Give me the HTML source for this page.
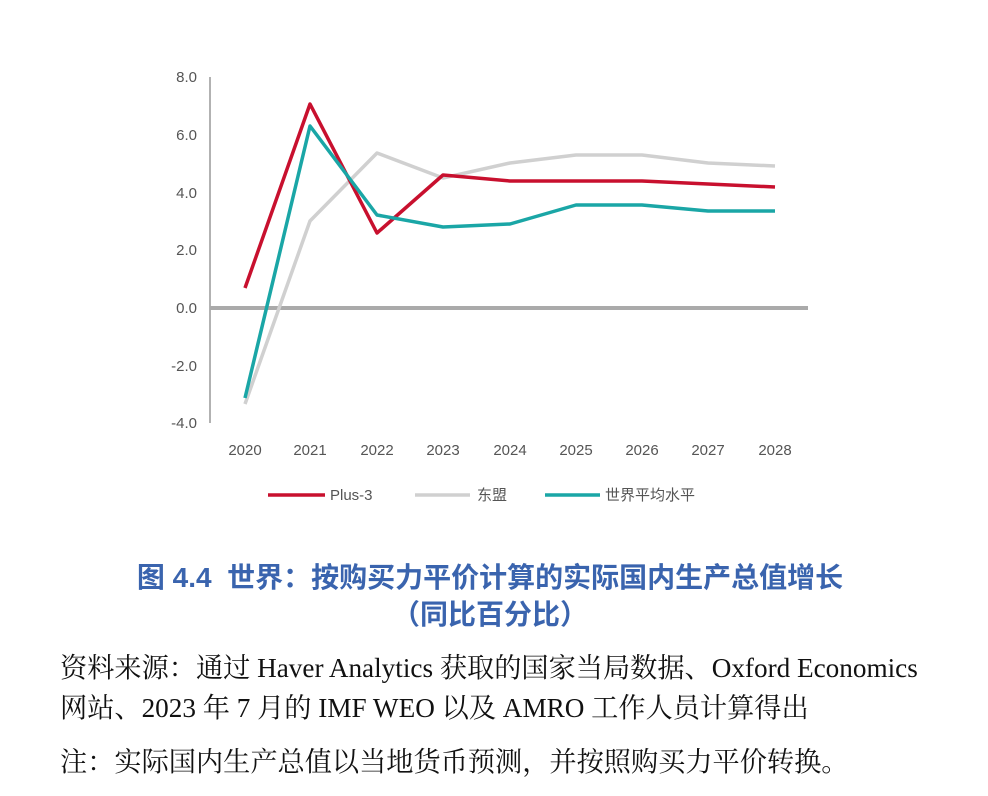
<!DOCTYPE html>
<html><head><meta charset="utf-8"><style>
body{margin:0;background:#fff;width:988px;height:796px;overflow:hidden;position:relative}
.t{position:absolute;font-family:"Liberation Serif","Noto Serif CJK SC",serif;font-size:27.2px;line-height:32px;color:#111;white-space:nowrap}
.h{position:absolute;width:980px;text-align:center;font-family:"Liberation Sans","Noto Sans CJK SC",sans-serif;font-weight:bold;font-size:28px;line-height:32px;color:#3a64ae}
</style></head><body>
<svg width="988" height="540" style="position:absolute;left:0;top:0" font-family="Liberation Sans, Noto Sans CJK SC, sans-serif" font-size="15" fill="#555">
<line x1="210" y1="77" x2="210" y2="423" stroke="#999" stroke-width="1.5"/>
<line x1="210" y1="308" x2="808" y2="308" stroke="#aaa" stroke-width="4"/>
<g text-anchor="end">
<text x="197" y="82">8.0</text><text x="197" y="140">6.0</text><text x="197" y="198">4.0</text><text x="197" y="255">2.0</text><text x="197" y="313">0.0</text><text x="197" y="371">-2.0</text><text x="197" y="428">-4.0</text>
</g>
<g text-anchor="middle">
<text x="245" y="455">2020</text><text x="310" y="455">2021</text><text x="377" y="455">2022</text><text x="443" y="455">2023</text><text x="510" y="455">2024</text><text x="576" y="455">2025</text><text x="642" y="455">2026</text><text x="708" y="455">2027</text><text x="775" y="455">2028</text>
</g>
<g fill="none" stroke-width="3.5" stroke-linejoin="round">
<polyline stroke="#d0d0d0" points="245,404 310,221 377,153 443,178 510,163 576,155 642,155 708,163 775,166"/>
<polyline stroke="#c8102e" points="245,288 310,104 377,233 443,175 510,181 576,181 642,181 708,184 775,187"/>
<polyline stroke="#1aa6a6" points="245,398 310,126 377,215 443,227 510,224 576,205 642,205 708,211 775,211"/>
<line x1="268" y1="495" x2="325" y2="495" stroke="#c8102e"/>
<line x1="415" y1="495" x2="470" y2="495" stroke="#d0d0d0"/>
<line x1="545" y1="495" x2="600" y2="495" stroke="#1aa6a6"/>
</g>
<text x="330" y="500">Plus-3</text><text x="477" y="500">东盟</text><text x="605" y="500">世界平均水平</text>
</svg>
<div class="h" style="top:562px">图 4.4 &nbsp;世界：按购买力平价计算的实际国内生产总值增长</div>
<div class="h" style="top:599px">（同比百分比）</div>
<div class="t" style="left:60px;top:652px">资料来源：通过 Haver Analytics 获取的国家当局数据、Oxford Economics</div>
<div class="t" style="left:60px;top:692px">网站、2023 年 7 月的 IMF WEO 以及 AMRO 工作人员计算得出</div>
<div class="t" style="left:60px;top:746px">注：实际国内生产总值以当地货币预测，并按照购买力平价转换。</div>
</body></html>
